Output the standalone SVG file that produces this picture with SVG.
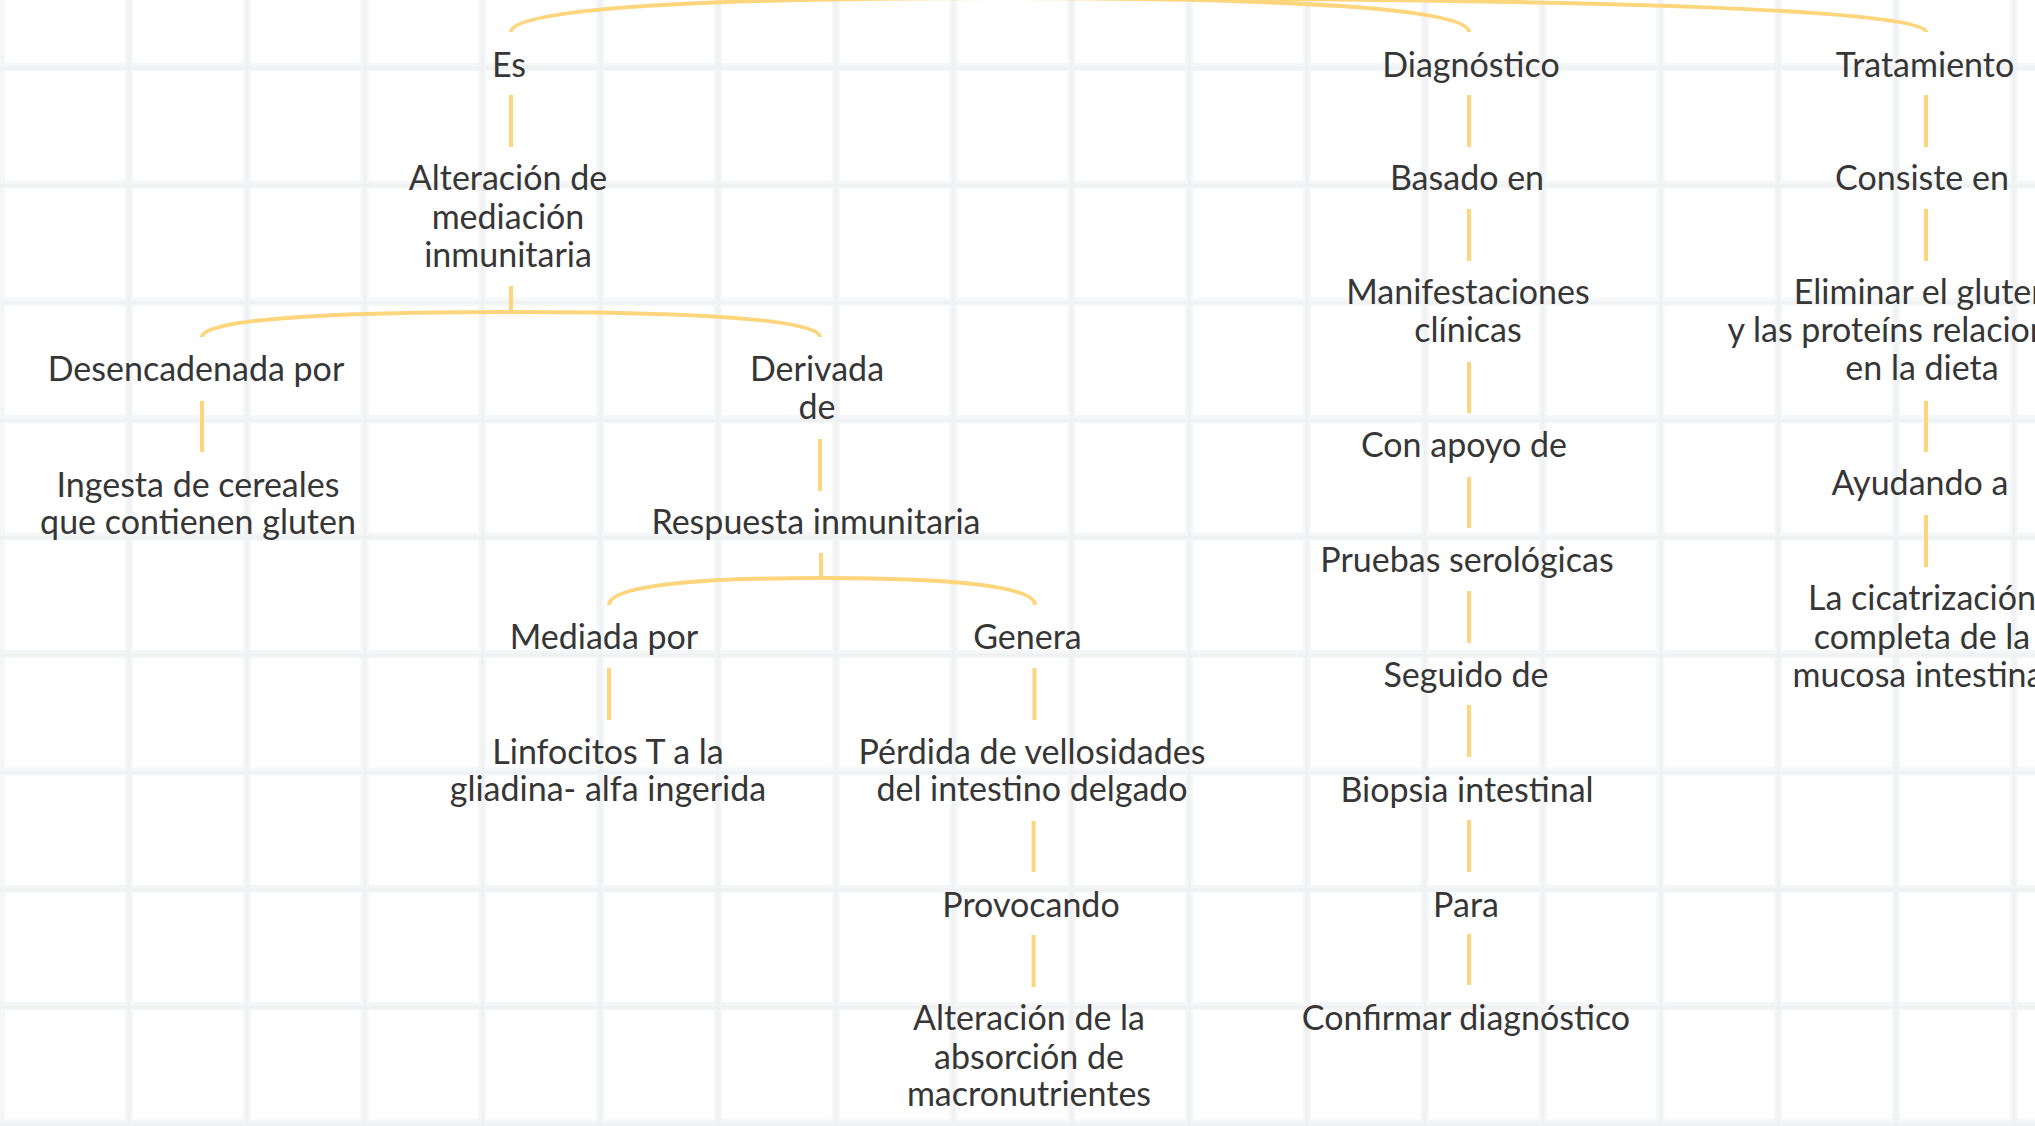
<svg xmlns="http://www.w3.org/2000/svg" width="2035" height="1126" viewBox="0 0 2035 1126">
<style>
.grid{stroke:#f5f6f7;stroke-width:8;fill:none}
.gridc{stroke:#f0f1f2;stroke-width:3;fill:none}
.c{stroke:#fdd57c;stroke-width:4;fill:none;stroke-linecap:butt}
text{font-family:Lato,"Noto Sans","DejaVu Sans",sans-serif;font-size:34px;fill:#363636;text-anchor:middle}
</style>
<rect width="2035" height="1126" fill="#ffffff"/>
<g id="grid">
<path class="grid" d="M1 0V1126M129 0V1126M246.8 0V1126M364.6 0V1126M482.4 0V1126M600.2 0V1126M718 0V1126M835.8 0V1126M953.6 0V1126M1071.4 0V1126M1189.2 0V1126M1307 0V1126M1424.8 0V1126M1542.6 0V1126M1660.4 0V1126M1778.2 0V1126M1896 0V1126M2013.8 0V1126M0 67H2035M0 184.4H2035M0 301.8H2035M0 419.2H2035M0 536.6H2035M0 654H2035M0 771.4H2035M0 888.8H2035M0 1006.2H2035M0 1123.6H2035"/>
<path class="gridc" d="M129 0V1126M246.8 0V1126M364.6 0V1126M482.4 0V1126M600.2 0V1126M718 0V1126M835.8 0V1126M953.6 0V1126M1071.4 0V1126M1189.2 0V1126M1307 0V1126M1424.8 0V1126M1542.6 0V1126M1660.4 0V1126M1778.2 0V1126M1896 0V1126M2013.8 0V1126M0 68H2035M0 185.4H2035M0 302.8H2035M0 420.2H2035M0 537.6H2035M0 655H2035M0 772.4H2035M0 889.8H2035M0 1007.2H2035M0 1124.6H2035"/>
</g>
<g id="connectors">
<path class="c" d="M1000 -2C706.6 -2 511 8.2 511 32"/>
<path class="c" d="M1000 -2C1281 -2 1469 8.2 1469 32"/>
<path class="c" d="M1000 -2C1555.6 -2 1926 8.2 1926 32"/>
<path class="c" d="M511 95V147"/>
<path class="c" d="M511 286V312"/>
<path class="c" d="M511 312C325.6 312 202 319.5 202 337"/>
<path class="c" d="M511 312C696.4 312 820 319.5 820 337"/>
<path class="c" d="M202 401V452"/>
<path class="c" d="M820 439V491"/>
<path class="c" d="M821 553V578"/>
<path class="c" d="M821 578C693.8 578 609 586 609 605"/>
<path class="c" d="M821 578C948.2 578 1035 586 1035 605"/>
<path class="c" d="M609 668V720"/>
<path class="c" d="M1034.5 668V720"/>
<path class="c" d="M1033.6 821V872"/>
<path class="c" d="M1033.6 935V987"/>
<path class="c" d="M1469 95V147"/>
<path class="c" d="M1469 209V261"/>
<path class="c" d="M1469 362V413"/>
<path class="c" d="M1469 477V528"/>
<path class="c" d="M1469 591V643"/>
<path class="c" d="M1469 705V757"/>
<path class="c" d="M1469 820V872"/>
<path class="c" d="M1469 934V985"/>
<path class="c" d="M1926 95V147"/>
<path class="c" d="M1926 209V261"/>
<path class="c" d="M1926 401V452"/>
<path class="c" d="M1926 515V567"/>
</g>
<g id="nodes" transform="translate(0,2)">
<g id="n-es"><text x="509" y="75">Es</text></g>
<g id="n-alteracion"><text x="508" y="188">Alteración de</text><text x="508" y="226.5">mediación</text><text x="508" y="265">inmunitaria</text></g>
<g id="n-desencadenada"><text x="196" y="379">Desencadenada por</text></g>
<g id="n-ingesta"><text x="198" y="495">Ingesta de cereales</text><text x="198" y="532">que contienen gluten</text></g>
<g id="n-derivada"><text x="817" y="379">Derivada</text><text x="817" y="416.6">de</text></g>
<g id="n-respuesta"><text x="816" y="532">Respuesta inmunitaria</text></g>
<g id="n-mediada"><text x="604" y="647">Mediada por</text></g>
<g id="n-genera"><text x="1027.5" y="647">Genera</text></g>
<g id="n-linfocitos"><text x="608" y="762">Linfocitos T a la</text><text x="608" y="799">gliadina- alfa ingerida</text></g>
<g id="n-perdida"><text x="1032" y="762">Pérdida de vellosidades</text><text x="1032" y="799">del intestino delgado</text></g>
<g id="n-provocando"><text x="1031" y="915">Provocando</text></g>
<g id="n-absorcion"><text x="1029" y="1028">Alteración de la</text><text x="1029" y="1066.5">absorción de</text><text x="1029" y="1104">macronutrientes</text></g>
<g id="n-diagnostico"><text x="1471" y="75">Diagnóstico</text></g>
<g id="n-basado"><text x="1467" y="188">Basado en</text></g>
<g id="n-manifestaciones"><text x="1468" y="301.7">Manifestaciones</text><text x="1468" y="340">clínicas</text></g>
<g id="n-conapoyo"><text x="1464" y="455">Con apoyo de</text></g>
<g id="n-pruebas"><text x="1467" y="570">Pruebas serológicas</text></g>
<g id="n-seguido"><text x="1466" y="685">Seguido de</text></g>
<g id="n-biopsia"><text x="1467" y="800">Biopsia intestinal</text></g>
<g id="n-para"><text x="1466" y="915">Para</text></g>
<g id="n-confirmar"><text x="1466" y="1028">Confirmar diagnóstico</text></g>
<g id="n-tratamiento"><text x="1925" y="75">Tratamiento</text></g>
<g id="n-consiste"><text x="1922" y="188">Consiste en</text></g>
<g id="n-eliminar"><text x="1922" y="301.7">Eliminar el gluten</text><text x="1922" y="340">y las proteíns relacionadas</text><text x="1922" y="378.3">en la dieta</text></g>
<g id="n-ayudando"><text x="1920" y="493">Ayudando a</text></g>
<g id="n-cicatrizacion"><text x="1922" y="608">La cicatrización</text><text x="1922" y="646.7">completa de la</text><text x="1922" y="685">mucosa intestinal</text></g>
</g>
</svg>
